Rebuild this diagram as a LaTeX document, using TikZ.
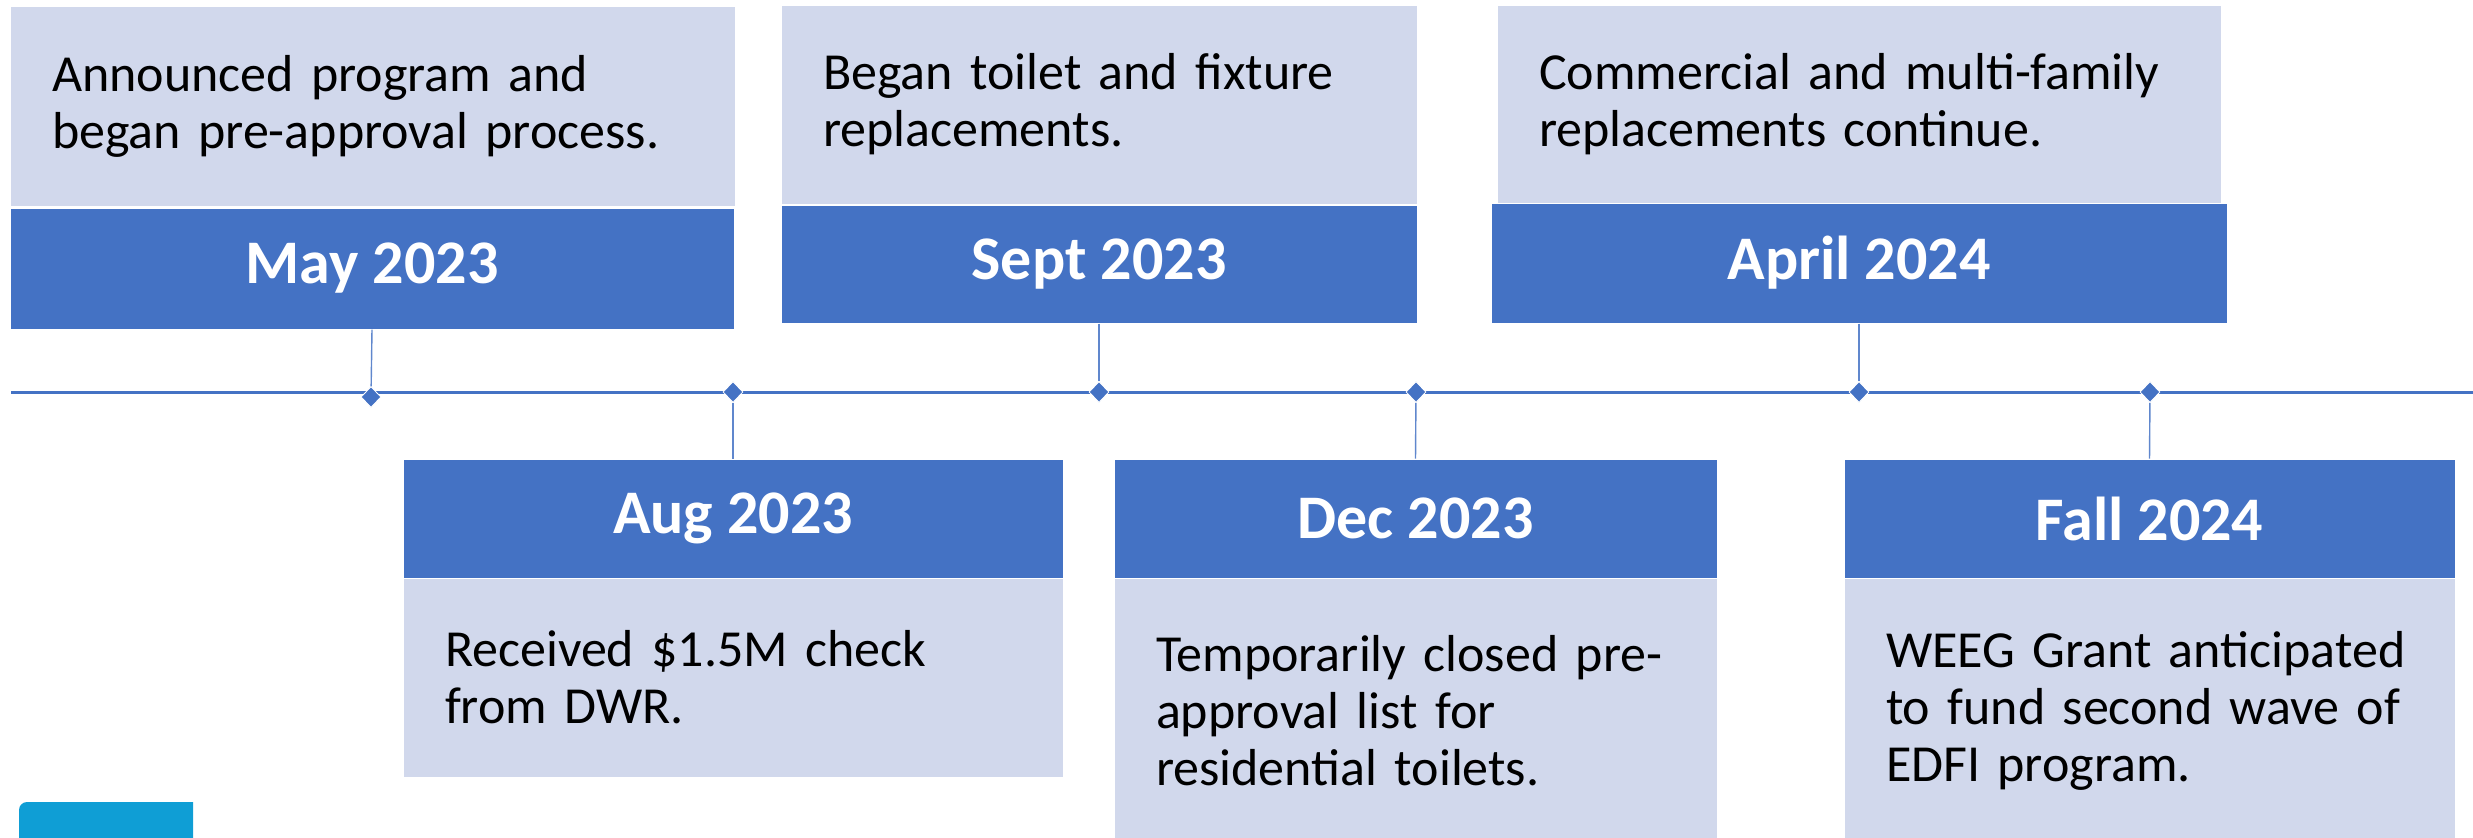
\documentclass[tikz,border=0pt]{standalone}
\usepackage{fontspec}
\setmainfont{Carlito}
\usetikzlibrary{shapes.geometric}
\definecolor{darkblue}{RGB}{68,114,196}
\definecolor{lightblue}{RGB}{209,216,236}
\definecolor{cyanbar}{RGB}{15,158,213}
\tikzset{
    datebox/.style={fill=darkblue, draw=white, line width=0.5pt, text=white, inner sep=0pt,
        font=\fontsize{31}{36}\selectfont\bfseries},
    notebox/.style={fill=lightblue, draw=white, line width=0.5pt, align=left,
        inner xsep=21pt, inner ysep=0pt, font=\fontsize{26}{28.5}\selectfont},
    tickmark/.style={diamond, fill=darkblue, draw=white, line width=0.4pt, inner sep=0pt,
        minimum width=10pt, minimum height=10.5pt},
    stemline/.style={darkblue!85!white, line width=0.7pt}
}
\begin{document}
\begin{tikzpicture}[x=0.5pt,y=-0.5pt]
    \useasboundingbox (0,0) rectangle (2473,837);
    \coordinate (linestart) at (11,392);
    \coordinate (lineend) at (2473,392);
    \draw[darkblue, line width=1.5pt] (linestart) -- (lineend);

    % events above the line
    \node[notebox, text width=320.5pt, minimum height=100pt] (maynote) at (372.5,106)
        {Announced program and\\began pre-approval process.};
    \node[datebox, minimum width=362pt, minimum height=60.5pt] (maydate) at (372,268.5) {May 2023};
    \node[notebox, text width=276pt, minimum height=99.5pt] (septnote) at (1099,104.5)
        {Began toilet and fixture\\replacements.};
    \node[datebox, minimum width=318pt, minimum height=59pt] (septdate) at (1099,264) {Sept 2023};
    \node[notebox, text width=320pt, minimum height=99pt] (aprnote) at (1859,104)
        {Commercial and multi-family\\replacements continue.};
    \node[datebox, minimum width=368pt, minimum height=60pt] (aprdate) at (1859,263) {April 2024};

    % events below the line
    \node[datebox, minimum width=330pt, minimum height=59.5pt] (augdate) at (733,518.5) {Aug 2023};
    \node[notebox, text width=288pt, minimum height=99.5pt] (augnote) at (733,677.5)
        {Received \$1.5M check\\from DWR.};
    \node[datebox, minimum width=301.5pt, minimum height=59.5pt] (decdate) at (1415.5,518.5) {Dec 2023};
    \node[notebox, text width=259.5pt, minimum height=133pt] (decnote) at (1415.5,711)
        {Temporarily closed pre-\\approval list for\\residential toilets.};
    \node[datebox, minimum width=305.5pt, minimum height=59.5pt] (falldate) at (2149.5,518.5) {Fall 2024};
    \node[notebox, text width=263.5pt, minimum height=133pt] (fallnote) at (2149.5,711)
        {WEEG Grant anticipated\\to fund second wave of\\EDFI program.};

    \foreach \name/\x/\y in {may/371/397, aug/733/392, sept/1099/392, dec/1416/392, apr/1859/392, fall/2150/392}
        {\node[tickmark] (\name tick) at (\x,\y) {};}

    \draw[stemline] (maydate.south) -- (maytick);
    \draw[stemline] (septdate.south) -- (septtick);
    \draw[stemline] (aprdate.south) -- (aprtick);
    \draw[stemline] (augtick) -- (augdate.north);
    \draw[stemline] (dectick) -- (decdate.north);
    \draw[stemline] (falltick) -- (falldate.north);

    \begin{scope}
        \clip (0,0) rectangle (193,837);
        \fill[cyanbar, rounded corners=4pt] (19,802) rectangle (240,860);
    \end{scope}
\end{tikzpicture}
\end{document}
